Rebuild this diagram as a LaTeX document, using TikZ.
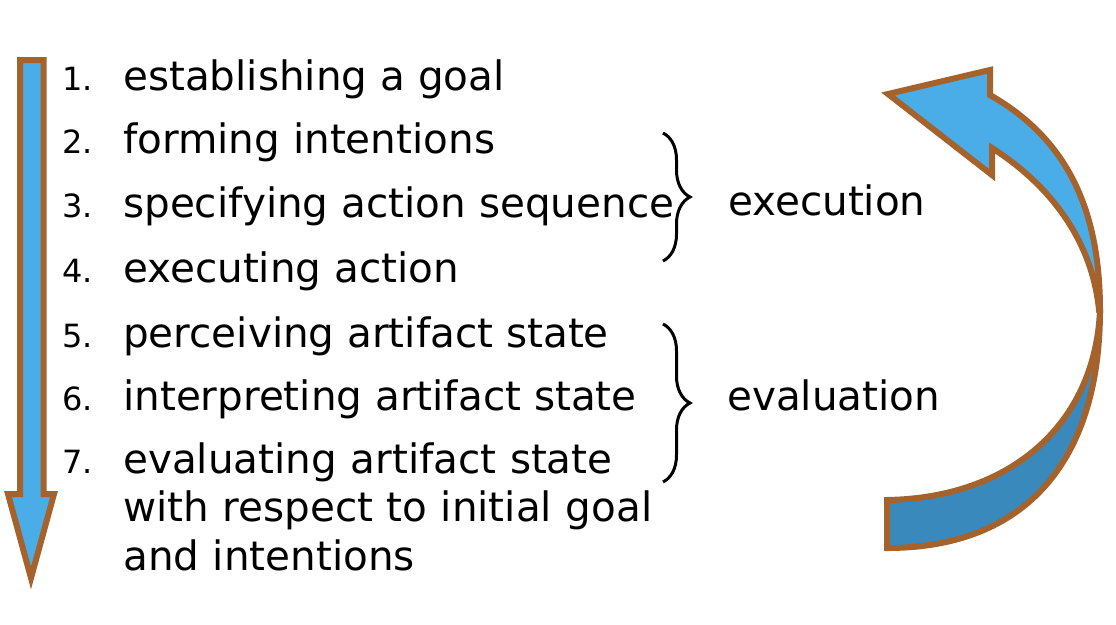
\documentclass[tikz,border=0pt]{standalone}
\usepackage{fontspec}
\setmainfont{DejaVu Sans}
\usepackage{tikz}
\usetikzlibrary{positioning}
\usetikzlibrary{decorations.pathreplacing}
\definecolor{arrowbrown}{HTML}{A5622A}
\definecolor{arrowblue}{HTML}{4BADE8}
\definecolor{arrowdark}{HTML}{3A89BD}

\begin{document}
\begin{tikzpicture}[x=1pt, y=-1pt,
    item/.style={anchor=base west, inner sep=0pt, font=\fontsize{40.5}{48.5}\selectfont},
    num/.style={anchor=base west, inner sep=0pt, font=\fontsize{32}{36}\selectfont},
    bluearrow/.style={draw=arrowbrown, line width=6pt, fill=arrowblue, line join=miter},
    curly/.style={decorate, decoration={brace, amplitude=27pt}, line width=3pt}]
    \useasboundingbox (0,0) rectangle (1116,624);

    % Seta para baixo
    \draw[bluearrow] (20,60) -- (43.5,60) -- (43.5,494) -- (54,494) -- (31,578)
        -- (8,494) -- (20,494) -- cycle;

    % Etapas
    \node[num] (num1) at (62,90) {1.};
    \node[item] (s1) at (123,90) {establishing a goal};
    \node[num] (num2) at (62,153) {2.};
    \node[item] (s2) at (123,153) {forming intentions};
    \node[num] (num3) at (62,217) {3.};
    \node[item] (s3) at (123,217) {specifying action sequence};
    \node[num] (num4) at (62,282) {4.};
    \node[item] (s4) at (123,282) {executing action};
    \node[num] (num5) at (62,347) {5.};
    \node[item] (s5) at (123,347) {perceiving artifact state};
    \node[num] (num6) at (62,410) {6.};
    \node[item] (s6) at (123,410) {interpreting artifact state};
    \node[num] (num7) at (62,473) {7.};
    \node[item, text width=600pt, align=left] (s7) at (123,473)
        {evaluating artifact state\\with respect to initial goal\\and intentions};

    % Chaves
    \coordinate (exTop) at (663,133);
    \coordinate (exBot) at (663,261);
    \draw[curly] (exTop) -- (exBot);
    \node[item] (exec) at (728,215) {execution};

    \coordinate (evTop) at (663,324);
    \coordinate (evBot) at (663,482);
    \draw[curly] (evTop) -- (evBot);
    \node[item] (eval) at (727,410) {evaluation};

    % Seta curva
    \draw[bluearrow, fill=arrowdark] (887,548) .. controls (1035,548) and (1100,450) .. (1100,310)
        .. controls (1095,425) and (1010,498) .. (887,500) -- cycle;
    \draw[bluearrow] (1100,310) .. controls (1100,200) and (1060,135) .. (990,95)
        -- (990,70) -- (888,94) -- (992,175) -- (992,148)
        .. controls (1050,185) and (1092,240) .. (1099,310) -- cycle;

\end{tikzpicture}
\end{document}
